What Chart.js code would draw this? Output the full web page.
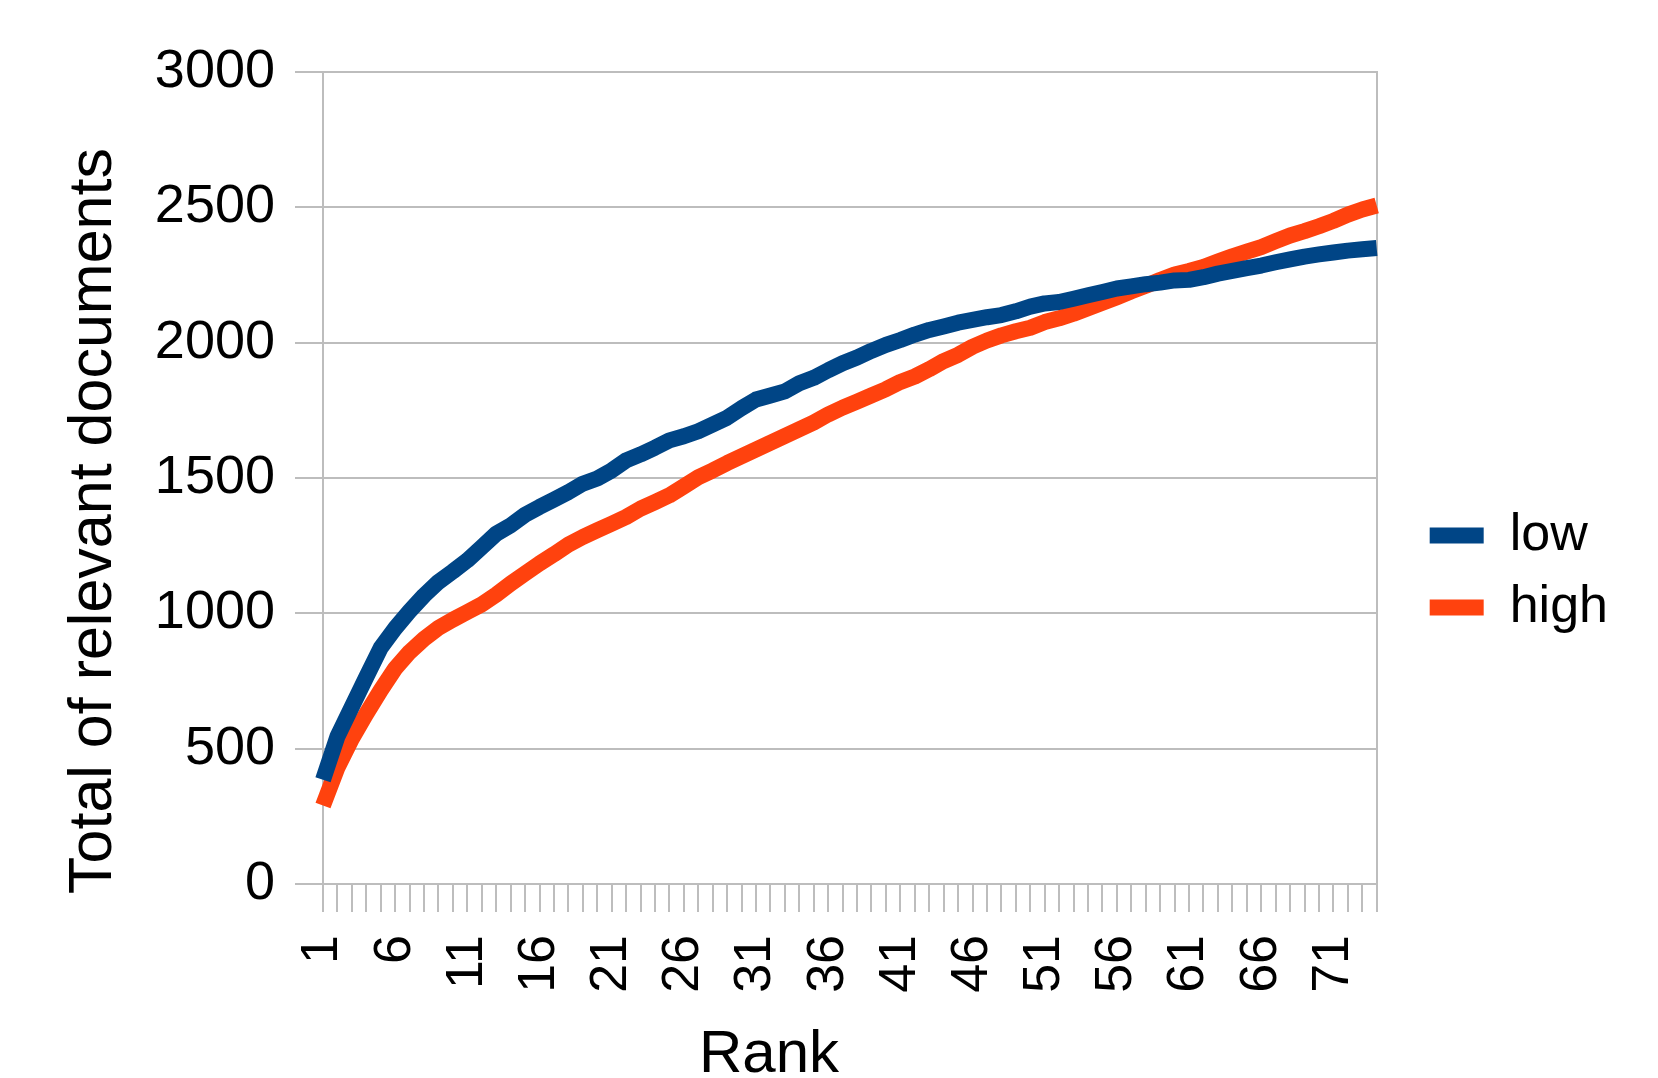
<!DOCTYPE html>
<html>
<head>
<meta charset="utf-8">
<title>Total of relevant documents by rank</title>
<script src="https://cdn.jsdelivr.net/npm/chart.js@4/dist/chart.umd.min.js"></script>
<style>
  html, body { margin: 0; padding: 0; background: #fff; }
  #wrap { width: 1658px; height: 1078px; position: relative; }
</style>
</head>
<body>
<div id="wrap"><canvas id="rankChart"></canvas></div>
<script>
// Rank categories (x axis)
const ranks = [
  '1', '2', '3', '4', '5', '6', '7', '8', '9', '10',
  '11', '12', '13', '14', '15', '16', '17', '18', '19', '20',
  '21', '22', '23', '24', '25', '26', '27', '28', '29', '30',
  '31', '32', '33', '34', '35', '36', '37', '38', '39', '40',
  '41', '42', '43', '44', '45', '46', '47', '48', '49', '50',
  '51', '52', '53', '54', '55', '56', '57', '58', '59', '60',
  '61', '62', '63', '64', '65', '66', '67', '68', '69', '70',
  '71', '72', '73', '74'
];
// Only every fifth rank gets a printed label
const shownRanks = ['1', '6', '11', '16', '21', '26', '31', '36', '41', '46', '51', '56', '61', '66', '71'];

// Cumulative relevant documents
const low = [
  385, 545, 655, 765, 873, 945, 1008, 1066, 1116, 1155,
  1196, 1245, 1294, 1325, 1364, 1393, 1420, 1448, 1479, 1498,
  1528, 1565, 1587, 1612, 1639, 1654, 1673, 1698, 1723, 1758,
  1790, 1805, 1820, 1850, 1870, 1898, 1924, 1945, 1970, 1992,
  2010, 2030, 2047, 2060, 2074, 2084, 2094, 2102, 2116, 2133,
  2145, 2150, 2162, 2175, 2187, 2200, 2208, 2216, 2222, 2230,
  2232, 2242, 2255, 2265, 2275, 2285, 2297, 2308, 2318, 2326,
  2333, 2340, 2345, 2350
];
const high = [
  290, 430, 537, 629, 716, 796, 857, 906, 946, 977,
  1005, 1033, 1069, 1110, 1147, 1184, 1218, 1254, 1282, 1307,
  1331, 1356, 1387, 1411, 1436, 1469, 1503, 1528, 1555, 1580,
  1605, 1630, 1655, 1680, 1705, 1735, 1760, 1782, 1805, 1828,
  1855, 1875, 1902, 1932, 1955, 1985, 2008, 2027, 2042, 2055,
  2076, 2090, 2107, 2127, 2147, 2168, 2190, 2210, 2232, 2252,
  2265, 2280, 2300, 2319, 2336, 2353, 2375, 2396, 2412, 2430,
  2450, 2473, 2492, 2507
];

const yTicks = [0, 500, 1000, 1500, 2000, 2500, 3000];
const xTitle = 'Rank';
const yTitle = 'Total of relevant documents';

const FONT = '"Liberation Sans", Arial, sans-serif';
const GRID = '#bdbdbd';
const BLUE = '#004586';
const ORANGE = '#ff420e';

// axis titles sit off-centre in the original, so place them by hand
const axisTitles = {
  id: 'axisTitles',
  afterDraw(chart) {
    const ctx = chart.ctx;
    ctx.save();
    ctx.fillStyle = '#000';
    ctx.font = '60px ' + FONT;
    ctx.textAlign = 'center';
    ctx.textBaseline = 'alphabetic';
    ctx.fillText(xTitle, 769, 1072);
    ctx.font = '61px ' + FONT;
    ctx.translate(111, 521);
    ctx.rotate(-Math.PI / 2);
    ctx.fillText(yTitle, 0, 0);
    ctx.restore();
  }
};

const ctx = document.getElementById('rankChart').getContext('2d');
new Chart(ctx, {
  type: 'line',
  data: {
    labels: ranks,
    datasets: [
      { label: 'low', data: low, borderColor: BLUE, backgroundColor: BLUE },
      { label: 'high', data: high, borderColor: ORANGE, backgroundColor: ORANGE }
    ]
  },
  options: {
    responsive: true,
    maintainAspectRatio: false,
    animation: false,
    devicePixelRatio: 1,
    layout: { padding: { left: 0, top: 72, right: 40, bottom: 7 } },
    elements: {
      line: { borderWidth: 16, tension: 0, borderJoinStyle: 'round', borderCapStyle: 'butt' },
      point: { radius: 0, hoverRadius: 0 }
    },
    plugins: {
      tooltip: { enabled: false },
      legend: {
        position: 'right',
        labels: {
          color: '#000',
          font: { family: FONT, size: 52 },
          boxWidth: 54,
          boxHeight: 16,
          padding: 20,
          generateLabels: (chart) => chart.data.datasets.map((ds, i) => ({
            text: ds.label,
            fillStyle: ds.borderColor,
            strokeStyle: ds.borderColor,
            lineWidth: 0,
            fontColor: '#000',
            datasetIndex: i
          }))
        }
      }
    },
    scales: {
      x: {
        afterFit: (scale) => { scale.height = 187; },
        grid: {
          drawOnChartArea: false,
          drawTicks: true,
          tickLength: 28,
          tickColor: GRID,
          lineWidth: 2
        },
        border: { display: true, color: GRID, width: 2 },
        ticks: {
          autoSkip: false,
          maxRotation: 90,
          minRotation: 90,
          padding: 23,
          color: '#000',
          font: { family: FONT, size: 52 },
          callback: function (value) {
            const lbl = this.getLabelForValue(value);
            return shownRanks.includes(lbl) ? lbl : '';
          }
        }
      },
      y: {
        min: 0,
        max: 3000,
        afterFit: (scale) => { scale.width = 323; },
        afterBuildTicks: (scale) => { scale.ticks = yTicks.map(v => ({ value: v })); },
        grid: {
          color: GRID,
          lineWidth: 2,
          drawTicks: true,
          tickLength: 28,
          tickColor: GRID
        },
        border: { display: true, color: GRID, width: 2 },
        ticks: {
          padding: 20,
          color: '#000',
          font: { family: FONT, size: 54 },
          callback: (value) => String(value)
        }
      },
      yRight: {
        position: 'right',
        afterFit: (scale) => { scale.width = 33; },
        grid: { display: false },
        border: { display: true, color: GRID, width: 2 },
        ticks: { display: false }
      }
    }
  },
  plugins: [axisTitles]
});
</script>
</body>
</html>
